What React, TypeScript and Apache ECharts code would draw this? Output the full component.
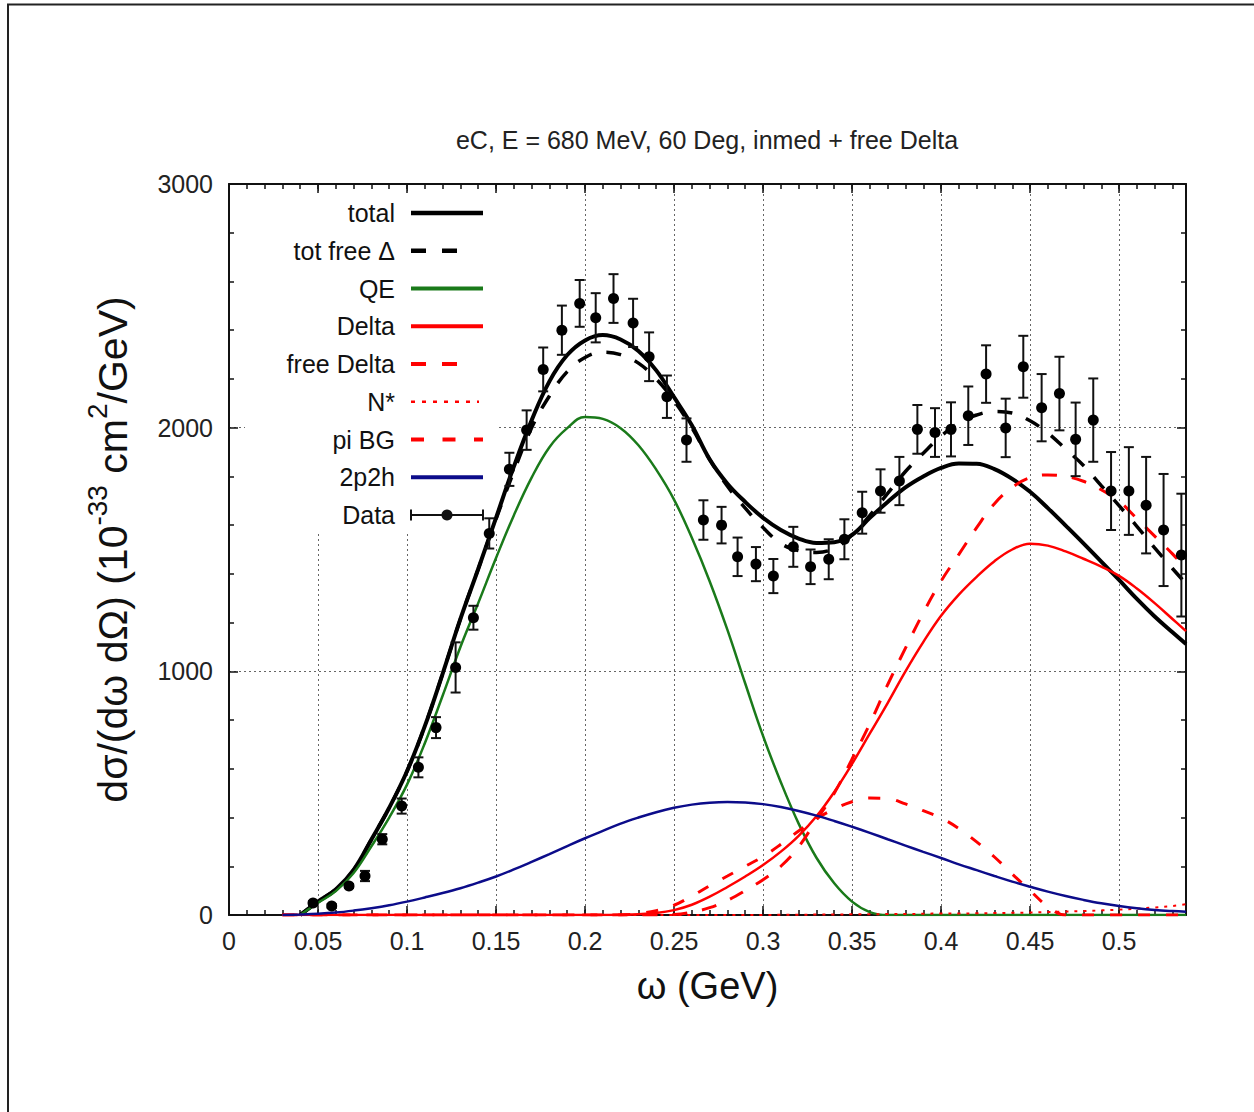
import React, { useEffect, useRef } from "react";
import * as echarts from "echarts";

// ---------------- data ----------------
const omega = [
  0.03, 0.04, 0.05, 0.06, 0.07, 0.08, 0.09, 0.1, 0.11, 0.12, 0.13, 0.14, 0.15,
  0.16, 0.17, 0.18, 0.19, 0.2, 0.21, 0.22, 0.23, 0.24, 0.25, 0.26, 0.27, 0.28,
  0.29, 0.3, 0.31, 0.32, 0.33, 0.34, 0.35, 0.36, 0.37, 0.38, 0.39, 0.4, 0.41,
  0.42, 0.43, 0.44, 0.45, 0.46, 0.47, 0.48, 0.49, 0.5, 0.51, 0.52, 0.53, 0.5376,
];

const total = [
  null, 0, 55, 105, 185, 310, 440, 590, 775, 990, 1215, 1420, 1630,
  1840, 2030, 2190, 2298, 2358, 2380, 2362, 2315, 2235, 2125, 2010, 1870, 1770,
  1695, 1630, 1580, 1545, 1527, 1530, 1560, 1630, 1695, 1755, 1800, 1835, 1853,
  1852, 1830, 1790, 1737, 1670, 1598, 1525, 1450, 1375, 1297, 1225, 1160, 1112,
];

const totFreeDelta = [
  null, 0, 55, 105, 185, 310, 440, 590, 775, 990, 1215, 1420, 1625,
  1820, 2000, 2130, 2230, 2288, 2310, 2300, 2265, 2200, 2110, 2000, 1870, 1760,
  1670, 1590, 1525, 1495, 1488, 1505, 1560, 1640, 1730, 1820, 1895, 1965, 2020,
  2052, 2066, 2060, 2028, 1978, 1912, 1845, 1762, 1680, 1595, 1507, 1422, 1360,
];

const qe = [
  null, 0, 50, 98, 172, 282, 400, 535, 705, 900, 1100, 1280, 1465,
  1640, 1795, 1920, 1998, 2044, 2036, 1998, 1928, 1828, 1705, 1548, 1370, 1170,
  950, 735, 545, 375, 235, 130, 55, 12, 0, 0, 0, 0, 0,
  0, 0, 0, 0, 0, 0, 0, 0, 0, 0, 0, 0, 0,
];

const delta = [
  0, 0, 0, 0, 0, 0, 0, 0, 0, 0, 0, 0, 0,
  0, 0, 0, 0, 0, 0, 1, 3, 8, 20, 42, 75, 115,
  158, 205, 260, 325, 405, 505, 620, 745, 870, 1000, 1120, 1228, 1315,
  1388, 1452, 1500, 1524, 1516, 1492, 1462, 1430, 1392, 1340, 1280, 1215, 1165,
];

const freeDelta = [
  0, 0, 0, 0, 0, 0, 0, 0, 0, 0, 0, 0, 0,
  0, 0, 0, 0, 0, 0, 0, 0, 0, 2, 12, 30, 60,
  100, 145, 200, 280, 390, 500, 640, 785, 945, 1095, 1240, 1370, 1480,
  1590, 1688, 1755, 1795, 1806, 1800, 1780, 1745, 1698, 1627, 1555, 1482, 1420,
];

const nStar = [
  0, 0, 0, 0, 0, 0, 0, 0, 0, 0, 0, 0, 0,
  0, 0, 0, 0, 0, 0, 0, 0, 0, 0, 0, 0, 0,
  0, 0, 1, 1, 2, 2, 3, 3, 4, 4, 5, 6, 6,
  7, 8, 9, 10, 12, 14, 16, 19, 22, 26, 31, 37, 44,
];

const piBG = [
  0, 0, 0, 0, 0, 0, 0, 0, 0, 0, 0, 0, 0,
  0, 0, 0, 0, 0, 0, 0, 6, 18, 40, 78, 120, 160,
  200, 240, 290, 345, 395, 435, 465, 480, 478, 456, 428, 398, 355,
  300, 238, 168, 100, 35, 0, 0, 0, 0, 0, 0, 0, 0,
];

const twoP2h = [
  0, 2, 5, 10, 18, 28, 40, 55, 72, 90, 110, 133, 158,
  187, 218, 250, 283, 315, 345, 375, 400, 422, 440, 453, 461, 464,
  462, 455, 443, 427, 408, 386, 362, 337, 311, 285, 259, 234, 208,
  184, 160, 137, 116, 96, 78, 62, 48, 37, 28, 21, 16, 13,
];

const dataOmega = [
  0.0472, 0.0577, 0.0674, 0.0764, 0.0861, 0.097, 0.1064, 0.1163, 0.1273, 0.1373,
  0.1462, 0.1575, 0.1672, 0.1765, 0.187, 0.197, 0.206, 0.216, 0.227, 0.236,
  0.246, 0.257, 0.2665, 0.2767, 0.2857, 0.296, 0.3058, 0.317, 0.3267, 0.3369,
  0.3457, 0.3557, 0.366, 0.3766, 0.3867, 0.3966, 0.4056, 0.4153, 0.4253, 0.4363,
  0.4462, 0.4565, 0.4665, 0.4756, 0.4855, 0.4955, 0.5055, 0.5152, 0.525, 0.535,
];
const dataSigma = [
  49, 37, 119, 160, 311, 447, 606, 769, 1016, 1220,
  1566, 1829, 1990, 2239, 2400, 2510, 2451, 2530, 2430, 2291,
  2127, 1949, 1621, 1600, 1470, 1440, 1391, 1511, 1429, 1460,
  1542, 1651, 1740, 1781, 1993, 1980, 1993, 2049, 2220, 1999,
  2250, 2082, 2140, 1952, 2031, 1740, 1740, 1682, 1580, 1477,
];
const dataErr = [
  8, 8, 8, 21, 21, 31, 41, 43, 103, 49,
  62, 68, 81, 90, 101, 96, 101, 100, 99, 100,
  87, 89, 81, 75, 79, 70, 70, 82, 71, 82,
  82, 86, 89, 99, 100, 100, 111, 120, 118, 120,
  127, 138, 151, 151, 171, 160, 180, 198, 230, 252,
];

const xTickMin = 0;
const xTickMax = 0.5376;
const yTickMin = 0;
const yTickMax = 3000;

const titleText = "eC, E = 680 MeV, 60 Deg, inmed + free Delta";
const legendLabels = ["total", "tot free \u0394", "QE", "Delta", "free Delta", "N*", "pi BG", "2p2h", "Data"];

// ---------------- component ----------------
export default function App() {
  const ref = useRef<HTMLDivElement>(null);

  useEffect(() => {
    const chart = echarts.init(ref.current as HTMLDivElement, null, { renderer: "svg" });
    const font = "Liberation Sans";
    const ink = "#111";
    const GREEN = "#1a7a1a";
    const RED = "#ff0000";
    const BLUE = "#0c0c8a";

    const pairs = (ys: (number | null)[]) => omega.map((x, i) => [x, ys[i] === null ? "-" : ys[i]]);
    const line = (name: string, ys: (number | null)[], color: string, width: number, type: any) => ({
      name,
      type: "line",
      xAxisIndex: 0,
      yAxisIndex: 0,
      data: pairs(ys),
      showSymbol: false,
      symbol: "none",
      smooth: 0.4,
      silent: true,
      z: 3,
      lineStyle: { color, width, type },
    });

    const axisLineStyle = { color: ink, width: 2 };
    const tickStyle = { color: ink, width: 1.5 };

    // legend (drawn as graphic)
    const lx0 = 411;
    const lx1 = 483;
    const ly0 = 213;
    const lstep = 37.75;
    const legendGraphics: any[] = [];
    const sampleStyles: any[] = [
      { stroke: "#000", lineWidth: 4.5, end: lx1 },
      { stroke: "#000", lineWidth: 4.5, lineDash: [15, 16], end: 458 },
      { stroke: GREEN, lineWidth: 4, end: lx1 },
      { stroke: RED, lineWidth: 4, end: lx1 },
      { stroke: RED, lineWidth: 4, lineDash: [15, 16], end: 458 },
      { stroke: RED, lineWidth: 2.5, lineDash: [4, 7], end: 479 },
      { stroke: RED, lineWidth: 4, lineDash: [13, 18.5], end: lx1 },
      { stroke: BLUE, lineWidth: 4, end: lx1 },
    ];
    legendLabels.forEach((label, i) => {
      const y = ly0 + i * lstep;
      legendGraphics.push({
        type: "text",
        x: 395,
        y,
        z: 10,
        style: {
          text: label,
          fontSize: 25,
          fontFamily: font,
          fill: ink,
          textAlign: "right",
          textVerticalAlign: "middle",
        },
      });
      if (i < sampleStyles.length) {
        const s = sampleStyles[i];
        legendGraphics.push({
          type: "line",
          z: 10,
          shape: { x1: lx0, y1: y, x2: s.end, y2: y },
          style: { stroke: s.stroke, lineWidth: s.lineWidth, lineDash: s.lineDash || null },
        });
      } else {
        const st = { stroke: ink, lineWidth: 2 };
        legendGraphics.push(
          { type: "line", z: 10, shape: { x1: lx0, y1: y, x2: lx1, y2: y }, style: st },
          { type: "line", z: 10, shape: { x1: lx0, y1: y - 5.5, x2: lx0, y2: y + 5.5 }, style: st },
          { type: "line", z: 10, shape: { x1: lx1, y1: y - 5.5, x2: lx1, y2: y + 5.5 }, style: st },
          { type: "circle", z: 10, shape: { cx: 447, cy: y, r: 5.5 }, style: { fill: ink } }
        );
      }
    });

    const option: any = {
      animation: false,
      backgroundColor: "#ffffff",
      textStyle: { fontFamily: font },
      grid: [
        { left: 229, right: 68, top: 184, bottom: 197, containLabel: false },
        { left: 229, right: 68, top: 184, bottom: 197, containLabel: false },
      ],
      xAxis: [
        {
          gridIndex: 0,
          type: "value",
          min: xTickMin,
          max: xTickMax,
          interval: 0.05,
          position: "bottom",
          axisLine: { show: true, onZero: false, lineStyle: axisLineStyle },
          axisTick: { show: true, inside: true, length: 9, lineStyle: tickStyle },
          axisLabel: {
            show: true,
            margin: 13,
            fontSize: 25,
            fontFamily: font,
            color: "#222",
            showMaxLabel: false,
            formatter: (v: number) => (Math.abs(v - xTickMax) < 1e-9 ? "" : String(parseFloat(v.toFixed(2)))),
          },
          splitLine: { show: true, lineStyle: { color: "#666", width: 1, type: [2, 3] } },
          name: "\u03c9 (GeV)",
          nameLocation: "middle",
          nameGap: 52,
          nameTextStyle: { fontSize: 38, fontFamily: font, color: ink },
        },
        {
          gridIndex: 0,
          type: "value",
          min: xTickMin,
          max: xTickMax,
          interval: 0.05,
          position: "top",
          axisLine: { show: true, onZero: false, lineStyle: axisLineStyle },
          axisTick: { show: true, inside: true, length: 9, lineStyle: tickStyle },
          axisLabel: { show: false },
          splitLine: { show: false },
        },
        {
          gridIndex: 1,
          type: "value",
          min: xTickMin,
          max: xTickMax,
          interval: 0.01,
          position: "bottom",
          axisLine: { show: false, onZero: false },
          axisTick: { show: true, inside: true, length: 5, lineStyle: tickStyle },
          axisLabel: { show: false },
          splitLine: { show: false },
        },
        {
          gridIndex: 1,
          type: "value",
          min: xTickMin,
          max: xTickMax,
          interval: 0.01,
          position: "top",
          axisLine: { show: false, onZero: false },
          axisTick: { show: true, inside: true, length: 5, lineStyle: tickStyle },
          axisLabel: { show: false },
          splitLine: { show: false },
        },
      ],
      yAxis: [
        {
          gridIndex: 0,
          type: "value",
          min: yTickMin,
          max: yTickMax,
          interval: 1000,
          position: "left",
          axisLine: { show: true, onZero: false, lineStyle: axisLineStyle },
          axisTick: { show: true, inside: true, length: 9, lineStyle: tickStyle },
          minorTick: { show: true, splitNumber: 5, length: 5, lineStyle: tickStyle },
          axisLabel: {
            show: true,
            margin: 16,
            fontSize: 25,
            fontFamily: font,
            color: "#222",
            formatter: (v: number) => String(v),
          },
          splitLine: { show: true, lineStyle: { color: "#666", width: 1, type: [2, 3] } },
          name: "{a|d\u03c3/(d\u03c9 d\u03a9) (10}{s|-33}{a| cm}{s|2}{a|/GeV)}",
          nameLocation: "middle",
          nameGap: 86,
          nameTextStyle: {
            fontFamily: font,
            color: ink,
            rich: {
              a: { fontSize: 41, lineHeight: 60, fontFamily: font, color: ink },
              s: { fontSize: 28, lineHeight: 22, verticalAlign: "top", fontFamily: font, color: ink },
            },
          },
        },
        {
          gridIndex: 0,
          type: "value",
          min: yTickMin,
          max: yTickMax,
          interval: 1000,
          position: "right",
          axisLine: { show: true, onZero: false, lineStyle: axisLineStyle },
          axisTick: { show: true, inside: true, length: 9, lineStyle: tickStyle },
          minorTick: { show: true, splitNumber: 5, length: 5, lineStyle: tickStyle },
          axisLabel: { show: false },
          splitLine: { show: false },
        },
        { gridIndex: 1, type: "value", min: yTickMin, max: yTickMax, show: false },
      ],
      series: [
        line("total", total, "#000", 4, "solid"),
        line("tot free \u0394", totFreeDelta, "#000", 3.5, [15, 15]),
        line("QE", qe, GREEN, 2.5, "solid"),
        line("Delta", delta, RED, 2.5, "solid"),
        line("free Delta", freeDelta, RED, 3, [15, 15]),
        line("N*", nStar, RED, 2, [3, 6]),
        line("pi BG", piBG, RED, 3, [12, 16]),
        line("2p2h", twoP2h, BLUE, 2.5, "solid"),
        {
          name: "Data errors",
          type: "custom",
          xAxisIndex: 0,
          yAxisIndex: 0,
          z: 4,
          silent: true,
          clip: true,
          data: dataOmega.map((x, i) => [x, dataSigma[i], dataErr[i]]),
          encode: { x: 0, y: 1 },
          renderItem: (_params: any, api: any) => {
            const x = api.value(0);
            const y = api.value(1);
            const e = api.value(2);
            const top = api.coord([x, y + e]);
            const bot = api.coord([x, y - e]);
            const h = 5;
            const st = { stroke: ink, lineWidth: 2 };
            return {
              type: "group",
              children: [
                { type: "line", shape: { x1: top[0], y1: top[1], x2: bot[0], y2: bot[1] }, style: st },
                { type: "line", shape: { x1: top[0] - h, y1: top[1], x2: top[0] + h, y2: top[1] }, style: st },
                { type: "line", shape: { x1: bot[0] - h, y1: bot[1], x2: bot[0] + h, y2: bot[1] }, style: st },
              ],
            };
          },
        },
        {
          name: "Data",
          type: "scatter",
          xAxisIndex: 0,
          yAxisIndex: 0,
          z: 5,
          silent: true,
          symbol: "circle",
          symbolSize: 11,
          itemStyle: { color: "#000", opacity: 1 },
          data: dataOmega.map((x, i) => [x, dataSigma[i]]),
        },
      ],
      graphic: [
        // page frame
        { type: "line", z: 20, shape: { x1: 7, y1: 4.5, x2: 1254, y2: 4.5 }, style: { stroke: "#222", lineWidth: 2 } },
        { type: "line", z: 20, shape: { x1: 8, y1: 4, x2: 8, y2: 1112 }, style: { stroke: "#222", lineWidth: 2 } },
        // legend background
        { type: "rect", z: 1, shape: { x: 245, y: 194, width: 252, height: 339 }, style: { fill: "#ffffff" } },
        // title
        {
          type: "text",
          x: 707,
          y: 140,
          z: 10,
          style: {
            text: titleText,
            fontSize: 25,
            fontFamily: font,
            fill: "#222",
            textAlign: "center",
            textVerticalAlign: "middle",
          },
        },
        ...legendGraphics,
      ],
    };

    chart.setOption(option);
    return () => chart.dispose();
  }, []);

  return (
    <div
      ref={ref}
      style={{ position: "absolute", left: 0, top: 0, width: 1254, height: 1112, background: "#fff" }}
    />
  );
}
